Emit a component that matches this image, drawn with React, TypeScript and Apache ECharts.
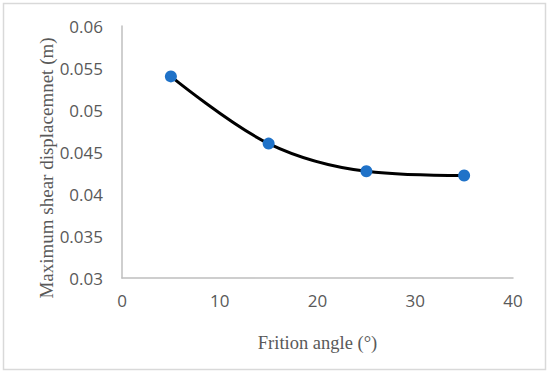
import React, { useEffect, useRef } from "react";
import * as echarts from "echarts";

const frictionAngles = [5, 15, 25, 35];
const maxShearDisp = [0.054, 0.046, 0.0427, 0.0422];
const xTitle = "Frition angle (°)";
const yTitle = "Maximum shear displacemnet (m)";

export default function App() {
  const ref = useRef<HTMLDivElement>(null);
  useEffect(() => {
    if (!ref.current) return;
    const chart = echarts.init(ref.current, null, { renderer: "svg" });
    const serif = "'Liberation Serif', serif";
    const sans = "'Open Sans', sans-serif";
    chart.setOption({
      animation: false,
      backgroundColor: "#ffffff",
      grid: { left: 122, right: 37, top: 26, bottom: 96 },
      xAxis: {
        type: "value",
        min: 0,
        max: 40,
        interval: 10,
        axisLine: { show: true, lineStyle: { color: "#bfbfbf", width: 1.5 } },
        axisTick: { show: false },
        splitLine: { show: false },
        axisLabel: { color: "#595959", fontFamily: sans, fontSize: 17, margin: 14 },
        name: xTitle,
        nameLocation: "middle",
        nameGap: 55,
        nameTextStyle: { color: "#595959", fontFamily: serif, fontSize: 18.5 },
      },
      yAxis: {
        type: "value",
        min: 0.03,
        max: 0.06,
        interval: 0.005,
        axisLine: { show: true, lineStyle: { color: "#bfbfbf", width: 1.5 } },
        axisTick: { show: false },
        splitLine: { show: false },
        axisLabel: {
          color: "#595959",
          fontFamily: sans,
          fontSize: 17,
          margin: 19,
          formatter: (v: number) => String(parseFloat(v.toFixed(4))),
        },
      },
      graphic: [
        {
          type: "rect",
          shape: { x: 3.5, y: 3.5, width: 542, height: 366 },
          style: { fill: "none", stroke: "#d9d9d9", lineWidth: 1.5 },
          silent: true,
        },
        {
          type: "text",
          x: 46,
          y: 168,
          rotation: Math.PI / 2,
          style: {
            text: yTitle,
            fill: "#595959",
            font: `19px ${serif}`,
            align: "center",
            verticalAlign: "middle",
          },
        },
      ],
      series: [
        {
          type: "line",
          data: frictionAngles.map((x, i) => [x, maxShearDisp[i]]),
          smooth: 0.35,
          symbol: "circle",
          symbolSize: 12,
          lineStyle: { color: "#000000", width: 3 },
          itemStyle: { color: "#1f72c8" },
        },
      ],
    });
    return () => chart.dispose();
  }, []);
  return <div ref={ref} style={{ width: 550, height: 374, position: "absolute", left: 0, top: 0 }} />;
}
